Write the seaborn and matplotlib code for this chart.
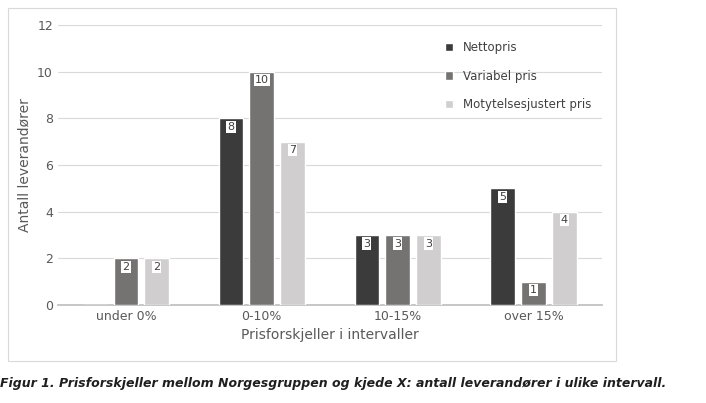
import pandas as pd
import seaborn as sns
import matplotlib.pyplot as plt
from matplotlib.patches import Rectangle

categories = ["under 0%", "0-10%", "10-15%", "over 15%"]
series = ["Nettopris", "Variabel pris", "Motytelsesjustert pris"]
nettopris = [0, 8, 3, 5]
variabel = [2, 10, 3, 1]
motytelse = [2, 7, 3, 4]
colors = ["#3b3b3b", "#767171", "#d0cece"]

rows = []
for s, vals in zip(series, [nettopris, variabel, motytelse]):
    for c, v in zip(categories, vals):
        rows.append({"kat": c, "serie": s, "verdi": v})
df = pd.DataFrame(rows)

sns.set_theme(style="white")
fig = plt.figure(figsize=(7.06, 4.03), dpi=100)
fig.patches.append(Rectangle((0.012, 0.105), 0.86, 0.875, transform=fig.transFigure,
                             fill=False, edgecolor="#d9d9d9", linewidth=0.8))
ax = fig.add_axes([0.082, 0.243, 0.77, 0.695])
sns.barplot(data=df, x="kat", y="verdi", hue="serie", palette=colors,
            width=0.68, gap=0.2, ax=ax, zorder=3)

for cont in ax.containers:
    for bar in cont:
        h = bar.get_height()
        if h > 0:
            ax.text(bar.get_x() + bar.get_width() / 2, h - 0.15, f"{int(h)}",
                    ha="center", va="top", fontsize=8, color="#404040",
                    bbox=dict(facecolor="white", edgecolor="none", pad=0.8), zorder=4)

ax.set_ylim(0, 12)
ax.set_yticks(range(0, 13, 2))
ax.yaxis.grid(True, color="#d9d9d9", linewidth=0.8, zorder=0)
for sp in ["top", "right", "left"]:
    ax.spines[sp].set_visible(False)
ax.spines["bottom"].set_color("#bfbfbf")
ax.tick_params(axis="both", labelsize=9, colors="#595959", length=0)
ax.set_xlabel("Prisforskjeller i intervaller", fontsize=10, color="#595959")
ax.set_ylabel("Antall leverandører", fontsize=10, color="#595959")
ax.legend(title=None, frameon=False, loc="upper right", bbox_to_anchor=(1.0, 0.98),
          fontsize=8.5, labelspacing=1.3, handlelength=0.7, handleheight=0.7,
          labelcolor="#404040")

fig.text(0.0, 0.04, "Figur 1. Prisforskjeller mellom Norgesgruppen og kjede X: antall leverandører i ulike intervall.",
         fontsize=9, fontweight="bold", fontstyle="italic", color="#1f1f1f")
fig.savefig("out.png", dpi=100)
